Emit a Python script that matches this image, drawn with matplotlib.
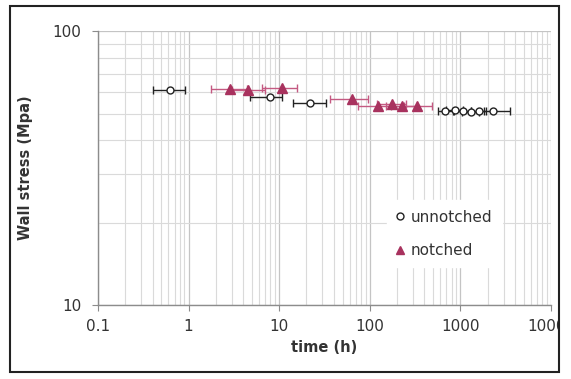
import matplotlib
matplotlib.use('Agg')
import matplotlib.pyplot as plt
import numpy as np
from matplotlib.ticker import LogLocator, FuncFormatter, NullFormatter
from matplotlib.lines import Line2D
from matplotlib.patches import Rectangle

# unnotched specimens: time (h), wall stress (MPa), error bar limits on time
un_t = [0.62, 7.9, 22, 680, 870, 1070, 1310, 1600, 2300]
un_s = [60.9, 57.4, 54.6, 51.2, 51.5, 51.0, 50.8, 51.1, 51.2]
un_lo = [0.40, 4.8, 14.2, 560, 700, 860, 1050, 1300, 1800]
un_hi = [0.91, 10.7, 33, 820, 1080, 1320, 1600, 1900, 3500]

# notched specimens
no_t = [2.86, 4.5, 10.7, 63.5, 123, 176, 227, 332]
no_s = [61.4, 60.9, 61.9, 56.5, 53.2, 54.1, 53.2, 53.2]
no_lo = [1.77, 3.0, 6.5, 36, 75, 120, 150, 240]
no_hi = [4.4, 7.0, 15.7, 95, 170, 250, 330, 480]

purple = '#a8325e'
purple_bar = '#c45a82'

fig = plt.figure(figsize=(5.71, 3.79), dpi=100)
ax = fig.add_axes([0.1716, 0.195, 0.7934, 0.723])

ax.set_xscale('log')
ax.set_yscale('log')
ax.set_xlim(0.1, 10000)
ax.set_ylim(10, 100)

ax.xaxis.set_major_locator(LogLocator(base=10))
ax.xaxis.set_minor_locator(LogLocator(base=10, subs=np.arange(2, 10)))
ax.yaxis.set_major_locator(LogLocator(base=10))
ax.yaxis.set_minor_locator(LogLocator(base=10, subs=np.arange(2, 10)))
fmt = FuncFormatter(lambda v, p: '{:g}'.format(v))
ax.xaxis.set_major_formatter(fmt)
ax.yaxis.set_major_formatter(fmt)
ax.xaxis.set_minor_formatter(NullFormatter())
ax.yaxis.set_minor_formatter(NullFormatter())

ax.grid(True, which='major', color='#c4c4c4', lw=0.9)
ax.grid(True, which='minor', color='#dadada', lw=0.8)
ax.set_axisbelow(True)

for s in ['top', 'right']:
    ax.spines[s].set_visible(False)
for s in ['left', 'bottom']:
    ax.spines[s].set_color('#8c8c8c')
    ax.spines[s].set_linewidth(1.0)

ax.tick_params(which='major', length=4, color='#8c8c8c', labelsize=11,
               labelcolor='#333333', pad=6)
ax.tick_params(which='minor', length=0)
ax.tick_params(axis='y', pad=8)

un_t = np.array(un_t)
no_t = np.array(no_t)
un_err = [un_t - np.array(un_lo), np.array(un_hi) - un_t]
no_err = [no_t - np.array(no_lo), np.array(no_hi) - no_t]

ax.errorbar(no_t, no_s, xerr=no_err, fmt='none', ecolor=purple_bar,
            elinewidth=1.0, capsize=3, capthick=1.0, zorder=3)
ax.errorbar(un_t, un_s, xerr=un_err, fmt='none', ecolor='#222222',
            elinewidth=1.0, capsize=3, capthick=1.0, zorder=3)
ax.plot(un_t, un_s, 'o', ms=5, mfc='white', mec='#222222', mew=1.0,
        ls='none', zorder=4)
ax.plot(no_t, no_s, '^', ms=7, color=purple, ls='none', zorder=5)

handles = [Line2D([], [], marker='o', ms=5, mfc='white', mec='#222222',
                  ls='none'),
           Line2D([], [], marker='^', ms=6, color=purple, ls='none')]
leg = ax.legend(handles, ['unnotched', 'notched'], loc='upper left',
                bbox_to_anchor=(0.62, 0.41), frameon=True, fontsize=11,
                handlelength=0.6, handletextpad=0.4, labelspacing=1.2,
                borderpad=0.6, fancybox=False)
leg.get_frame().set_edgecolor('white')
leg.get_frame().set_facecolor('white')
leg.get_frame().set_alpha(1)
for t in leg.get_texts():
    t.set_color('#333333')

ax.set_xlabel('time (h)', fontsize=10.5, fontweight='bold', color='#333333',
              labelpad=4)
ax.set_ylabel('Wall stress (Mpa)', fontsize=10.5, fontweight='bold',
              color='#333333', labelpad=14)

# outer frame of the picture, clipping the last tick label
W, H = 571, 379
fig.add_artist(Rectangle((560 / W, 0), 11 / W, 1, transform=fig.transFigure,
                         facecolor='white', edgecolor='none', zorder=10))
fig.add_artist(Rectangle((10 / W, 1 - 372 / H), 549 / W, 366 / H,
                         transform=fig.transFigure, facecolor='none',
                         edgecolor='#222222', lw=1.5, zorder=11))

fig.savefig('out.png', dpi=100)
